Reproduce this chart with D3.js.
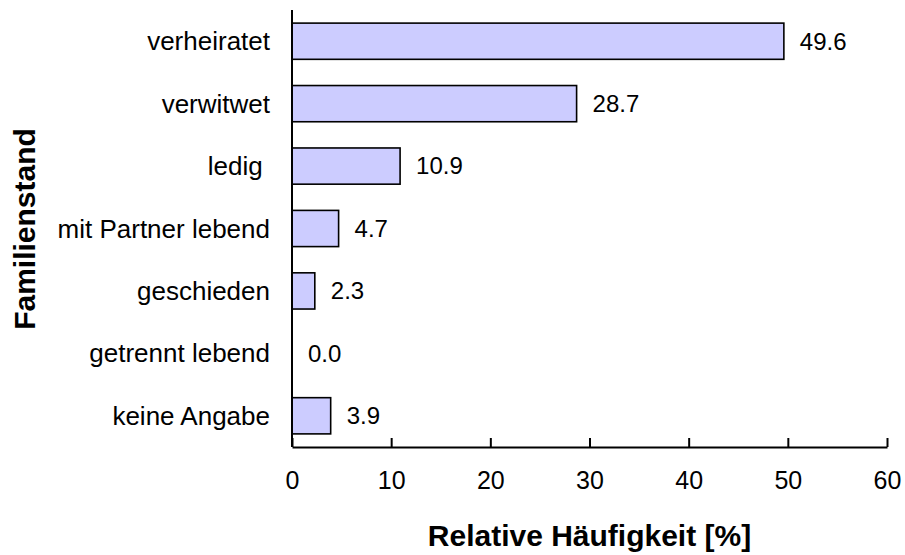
<!DOCTYPE html>
<meta charset="utf-8">
<style>

body {
  margin: 0;
  background-color: white;
  overflow: hidden;
}

text {
  font-family: "Liberation Sans", Arial, sans-serif;
  fill: black;
  white-space: pre;
}

.bar {
  fill: #ccccff;
  stroke: black;
  stroke-width: 1.6px;
}

</style>
<body>

<script src="https://d3js.org/d3.v7.min.js"></script>
<script>

var categories = ["verheiratet", "verwitwet", "ledig ", "mit Partner lebend", "geschieden", "getrennt lebend", "keine Angabe"];
var values = [49.6, 28.7, 10.9, 4.7, 2.3, 0.0, 3.9];
var xTicks = [0, 10, 20, 30, 40, 50, 60];

var width = 905,
    height = 555;

// plot edges (note: "top" is reserved on window, so use plotTop)
var plotLeft = 292, plotRight = 887, plotTop = 10, plotBottom = 447;

var svg = d3.select("body").append("svg")
    .attr("width", width)
    .attr("height", height);

var x = d3.scaleLinear()
    .domain([0, 60])
    .range([plotLeft, plotRight]);

var y = d3.scaleBand()
    .domain(categories)
    .range([plotTop, plotBottom])
    .paddingInner(0.42)
    .paddingOuter(0.21);

var data = categories.map(function(c, i) { return {cat: c, value: values[i]}; });

// bars
svg.selectAll(".bar")
    .data(data)
  .enter().append("rect")
    .attr("class", "bar")
    .attr("x", x(0))
    .attr("y", function(d) { return y(d.cat); })
    .attr("width", function(d) { return x(d.value) - x(0); })
    .attr("height", y.bandwidth())
    .style("display", function(d) { return d.value > 0 ? null : "none"; });

// value labels
svg.selectAll(".value")
    .data(data)
  .enter().append("text")
    .attr("class", "value")
    .attr("x", function(d) { return x(d.value) + 16; })
    .attr("y", function(d) { return y(d.cat) + y.bandwidth() / 2; })
    .attr("dy", "0.35em")
    .style("font-size", "24px")
    .text(function(d) { return d.value.toFixed(1); });

// category labels
svg.selectAll(".cat")
    .data(categories)
  .enter().append("text")
    .attr("class", "cat")
    .attr("x", plotLeft - 22)
    .attr("y", function(d) { return y(d) + y.bandwidth() / 2; })
    .attr("dy", "0.35em")
    .attr("text-anchor", "end")
    .style("font-size", "26px")
    .text(function(d) { return d; });

// x axis, ticks pointing up
var xAxis = svg.append("g")
    .attr("transform", "translate(0," + plotBottom + ")")
    .call(d3.axisBottom(x).tickValues(xTicks).tickSizeInner(-9).tickSizeOuter(0).tickPadding(24));

xAxis.select(".domain").attr("stroke-width", 2);
xAxis.selectAll(".tick line").attr("stroke-width", 2);
xAxis.selectAll(".tick text")
    .style("font-size", "25px")
    .style("font-family", "'Liberation Sans', Arial, sans-serif");

// y axis line only
svg.append("line")
    .attr("x1", plotLeft).attr("x2", plotLeft)
    .attr("y1", plotTop).attr("y2", plotBottom)
    .attr("stroke", "black")
    .attr("stroke-width", 2);

// axis titles
svg.append("text")
    .attr("x", (plotLeft + plotRight) / 2)
    .attr("y", 546)
    .attr("text-anchor", "middle")
    .style("font-size", "30px")
    .style("font-weight", "bold")
    .text("Relative Häufigkeit [%]");

svg.append("text")
    .attr("transform", "translate(35,229)rotate(-90)")
    .attr("text-anchor", "middle")
    .style("font-size", "30px")
    .style("font-weight", "bold")
    .text("Familienstand");

</script>
